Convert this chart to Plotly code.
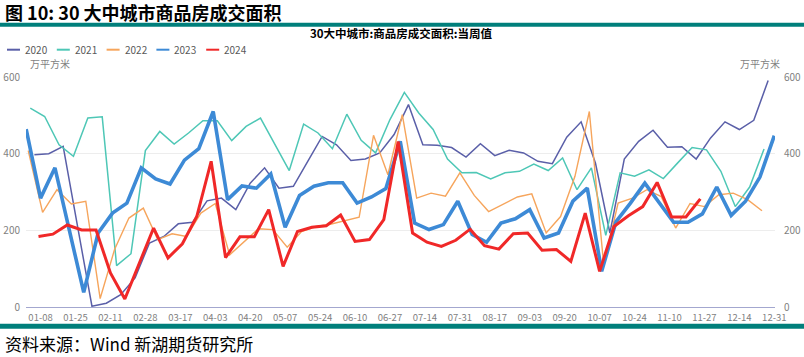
import pandas as pd
import plotly.graph_objects as go

# Weekly values (万平方米), each year starting on its first Sunday, mapped onto a common MM-DD axis
years = ["2020", "2021", "2022", "2023", "2024"]
start_days = {"2020": "2023-01-05", "2021": "2023-01-03", "2022": "2023-01-02",
              "2023": "2023-01-01", "2024": "2023-01-07"}

v2020 = [397, 400, 419, 210, 2, 10, 32, 76, 167, 184, 217, 221, 277,
         284, 254, 323, 363, 310, 315, 380, 445, 423, 382, 386, 402, 450, 528,
         423, 422, 416, 391, 426, 395, 409, 402, 380, 374, 443, 483, 375,
         193, 386, 432, 461, 417, 418, 386, 441, 483, 463, 487, 591]
v2021 = [519, 497, 423, 393, 493, 496, 108, 139, 408, 458, 425, 454, 486, 486,
         434, 471, 493, 423, 356, 477, 454, 413, 503, 435, 402, 489, 560,
         506, 463, 386, 350, 351, 334, 350, 354, 373, 356, 389, 306, 363,
         187, 350, 341, 358, 335, 376, 416, 410, 354, 262, 313, 412]
v2022 = [408, 247, 306, 269, 276, 22, 150, 232, 258, 176, 191, 184, 245, 270,
         136, 171, 204, 202, 156, 197, 210, 216, 225, 234, 448, 345, 502,
         284, 297, 289, 350, 291, 249, 267, 287, 295, 193, 236, 341, 510,
         110, 271, 284, 306, 288, 206, 270, 262, 293, 297, 280, 251]
v2023 = [464, 284, 363, 200, 38, 193, 245, 271, 363, 334, 321, 383, 413, 510,
         280, 316, 310, 347, 208, 291, 315, 324, 324, 271, 287, 309, 432,
         219, 202, 215, 276, 189, 169, 219, 230, 254, 180, 193, 276, 310,
         93, 223, 271, 323, 271, 221, 221, 243, 313, 239, 276, 339, 447]
v2024 = [184, 190, 214, 201, 201, 89, 21, 115, 206, 128, 165, 236, 380,
         129, 183, 183, 254, 106, 197, 208, 212, 240, 171, 176, 228, 432,
         193, 169, 158, 174, 203, 160, 151, 191, 193, 148, 150, 119, 245, 93,
         210, 238, 262, 325, 235, 235, 282]

values = {"2020": v2020, "2021": v2021, "2022": v2022, "2023": v2023, "2024": v2024}
colors = {"2020": "#5A5FA8", "2021": "#4EC7B6", "2022": "#F6A55C",
          "2023": "#3D8AD6", "2024": "#F02828"}
widths = {"2020": 1.5, "2021": 1.5, "2022": 1.4, "2023": 3.6, "2024": 3.0}

tick_dates = ["01-08", "01-25", "02-11", "02-28", "03-17", "04-03", "04-20", "05-07",
              "05-24", "06-10", "06-27", "07-14", "07-31", "08-17", "09-03", "09-20",
              "10-07", "10-24", "11-10", "11-27", "12-14", "12-31"]
y_ticks = [0, 200, 400, 600]

fig = go.Figure()
for yr in years:
    xs = pd.date_range(start=start_days[yr], periods=len(values[yr]), freq="7D")
    fig.add_trace(go.Scatter(x=xs, y=values[yr], mode="lines", name=yr,
                             line=dict(color=colors[yr], width=widths[yr]),
                             showlegend=False, hoverinfo="skip"))
# invisible trace to carry the right-hand axis
fig.add_trace(go.Scatter(x=pd.date_range(start=start_days["2023"], periods=len(v2023), freq="7D"),
                         y=v2023, yaxis="y2", mode="lines", line=dict(width=0),
                         opacity=0, showlegend=False, hoverinfo="skip"))

W, H = 804, 357
L, R, T, B = 26, 775, 77.3, 307.3
pw, ph = R - L, B - T


def px(x):
    return (x - L) / pw


def py(y):
    return (B - y) / ph


gray = "#7F7F7F"
fig.update_layout(
    width=W, height=H,
    margin=dict(l=L, r=W - R, t=T, b=H - B, autoexpand=False),
    paper_bgcolor="white", plot_bgcolor="white",
    font=dict(family="Noto Sans CJK SC, Noto Sans, sans-serif", size=10, color=gray),
    showlegend=False,
    xaxis=dict(type="date", range=["2022-12-31 22:00", "2023-12-31 08:00"],
               tickvals=[f"2023-{d}" for d in tick_dates], ticktext=tick_dates,
               showgrid=False, showline=True, linecolor="#A3A7CF", linewidth=1,
               ticks="", ticklabelstandoff=2, tickfont=dict(size=9.5, color=gray),
               zeroline=False, automargin=False),
    yaxis=dict(range=[0, 600], tickvals=y_ticks, showgrid=True, gridcolor="#EDEDED",
               gridwidth=1, zeroline=False, showline=False, ticks="",
               ticklabelstandoff=5, tickfont=dict(size=10, color=gray), automargin=False),
    yaxis2=dict(range=[0, 600], tickvals=y_ticks, overlaying="y", side="right",
                showgrid=False, zeroline=False, showline=False, ticks="",
                ticklabelstandoff=8, tickfont=dict(size=10, color=gray), automargin=False),
)

shapes = [
    dict(type="rect", xref="paper", yref="paper", x0=px(0), x1=px(W), y0=py(27), y1=py(23),
         fillcolor="#007F7B", line=dict(width=0)),
    dict(type="rect", xref="paper", yref="paper", x0=px(0), x1=px(W), y0=py(329), y1=py(324),
         fillcolor="#007F7B", line=dict(width=0)),
]
ann = [
    dict(text="<b>图 10: 30 大中城市商品房成交面积</b>", x=px(3), y=py(12.5), xanchor="left",
         yanchor="middle", font=dict(size=18, color="black", family="Noto Sans CJK SC")),
    dict(text="<b>30大中城市:商品房成交面积:当周值</b>", x=px(401), y=py(33), xanchor="center",
         yanchor="middle", font=dict(size=11.5, color="black", family="Noto Sans CJK SC")),
    dict(text="万平方米", x=px(28), y=py(64), xanchor="left", yanchor="middle",
         font=dict(size=10, color=gray)),
    dict(text="万平方米", x=px(738), y=py(64), xanchor="left", yanchor="middle",
         font=dict(size=10, color=gray)),
    dict(text="资料来源：Wind 新湖期货研究所", x=px(3), y=py(344), xanchor="left",
         yanchor="middle", font=dict(size=17, color="black", family="Noto Sans CJK SC")),
]
# custom legend (short line samples like the reference)
for i, yr in enumerate(years):
    x0 = 7 + 49.8 * i
    shapes.append(dict(type="line", xref="paper", yref="paper", x0=px(x0), x1=px(x0 + 13),
                       y0=py(50), y1=py(50), line=dict(color=colors[yr], width=2)))
    ann.append(dict(text=yr, x=px(x0 + 16), y=py(50), xanchor="left", yanchor="middle",
                    font=dict(size=10, color="#595959")))
for a in ann:
    a.update(xref="paper", yref="paper", showarrow=False)
fig.update_layout(shapes=shapes, annotations=ann)

fig.write_html("out.html", config={"displayModeBar": False},
               post_script="document.body.style.margin='0';")
